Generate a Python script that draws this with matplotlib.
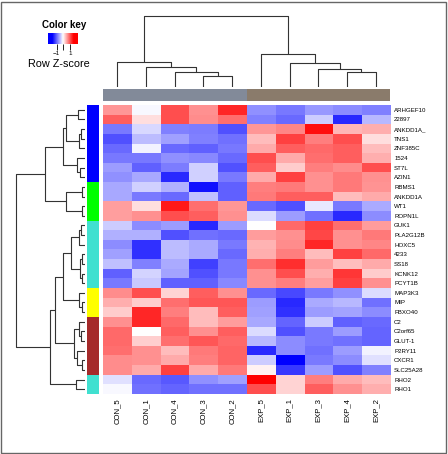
import numpy as np
import matplotlib
matplotlib.use("Agg")
import matplotlib.pyplot as plt
from matplotlib.colors import LinearSegmentedColormap, Normalize
from matplotlib.patches import Rectangle

plt.rcParams['font.family'] = ['Liberation Sans', 'DejaVu Sans']

# ---- data -------------------------------------------------------------
samples = ['CON_5', 'CON_1', 'CON_4', 'CON_3', 'CON_2',
           'EXP_5', 'EXP_1', 'EXP_3', 'EXP_4', 'EXP_2']
sample_group = ['CON'] * 5 + ['EXP'] * 5

genes = ['ARHGEF10', '22897', 'ANKDD1A_', 'TNS1', 'ZNF385C', '1524', 'ST7L',
         'AZIN1', 'RBMS1', 'ANKDD1A', 'WT1', 'ROPN1L', 'GUK1', 'PLA2G12B',
         'HOXC5', '4233', 'SS18', 'KCNK12', 'PCYT1B', 'MAP3K3', 'MIP',
         'FBXO40', 'C2', 'C2orf65', 'GLUT-1', 'P2RY11', 'CXCR1', 'SLC25A28',
         'RHO2', 'RHO1']

# row z-scores, one list per gene, columns in the order of `samples`
z_scores = [
    [0.65, -0.05, 1.10, 0.70, 1.35, -0.70, -0.85, -0.65, -0.72, -0.80],
    [1.00, 0.20, 1.10, 0.72, 0.90, -0.80, -0.93, -0.32, -1.35, -0.45],
    [-0.83, -0.25, -0.80, -0.82, -1.10, 0.65, 0.75, 1.50, 0.45, 0.50],
    [-1.10, -0.42, -0.60, -0.80, -0.90, 0.42, 1.20, 0.80, 1.10, 0.20],
    [-0.93, -0.08, -0.93, -1.00, -0.85, 0.53, 1.00, 0.93, 1.00, 0.42],
    [-0.85, -0.85, -0.70, -0.75, -0.93, 1.10, 0.53, 0.90, 1.00, 0.50],
    [-0.62, -1.00, -0.82, -0.30, -1.08, 1.00, 0.32, 0.80, 0.72, 1.10],
    [-0.70, -0.55, -1.35, -0.30, -0.83, 0.53, 1.20, 0.70, 0.83, 0.70],
    [-0.55, -0.30, -0.50, -1.50, -1.00, 0.80, 0.83, 0.70, 0.83, 0.67],
    [-0.55, -0.83, -0.93, -0.40, -1.00, 0.83, 1.00, 1.00, 0.42, 0.53],
    [0.60, 0.20, 1.45, 0.90, 0.65, -0.93, -1.10, -0.15, -0.83, -0.53],
    [0.60, 0.70, 1.10, 1.00, 0.70, -0.22, -0.62, -0.90, -1.35, -0.72],
    [-0.32, -0.72, -0.62, -1.35, -0.62, 0.00, 0.93, 1.20, 0.90, 0.62],
    [-0.50, -0.50, -1.10, -0.90, -0.93, 0.62, 0.70, 1.15, 0.70, 0.83],
    [-0.72, -1.30, -0.42, -0.53, -0.83, 0.47, 0.72, 1.35, 0.70, 0.75],
    [-0.60, -1.30, -0.42, -0.53, -0.93, 0.50, 0.80, 0.42, 1.20, 0.93],
    [-0.40, -0.80, -0.53, -1.20, -0.85, 0.90, 1.30, 0.62, 0.40, 0.53],
    [-1.00, -0.27, -0.57, -1.10, -0.85, 0.70, 1.10, 0.50, 1.25, 0.32],
    [-0.83, -0.35, -1.00, -1.00, -0.75, 0.70, 0.80, 0.60, 1.20, 0.70],
    [0.72, 1.10, 0.27, 1.00, 0.70, -0.93, -1.15, -0.83, -0.70, -0.22],
    [0.50, 0.32, 0.90, 1.05, 1.05, -0.62, -1.35, -0.53, -0.45, -0.90],
    [0.32, 1.35, 0.80, 0.42, 1.00, -0.60, -1.30, -0.62, -0.57, -0.72],
    [0.70, 1.35, 0.93, 0.42, 0.62, -0.55, -0.97, -0.32, -1.00, -0.93],
    [0.93, 0.00, 1.00, 0.70, 1.00, -0.22, -1.10, -0.83, -0.62, -0.97],
    [0.93, 0.30, 0.90, 1.05, 0.93, -0.45, -0.72, -0.83, -0.90, -0.97],
    [0.90, 0.70, 0.42, 0.83, 0.97, -1.35, -0.72, -0.90, -0.62, -0.08],
    [0.72, 0.70, 0.53, 0.80, 0.97, -0.32, -1.60, -0.83, -0.72, -0.20],
    [0.72, 0.53, 1.20, 0.53, 0.83, 0.08, -1.25, -0.62, -1.10, -0.80],
    [-0.20, -0.93, -1.05, -0.70, -0.60, 1.60, 0.27, 0.80, 0.53, 0.42],
    [-0.05, -0.90, -0.97, -0.90, -0.90, 1.10, 0.27, 1.00, 0.70, 0.50],
]

# gene cluster colour per row
row_cluster = (['blue'] * 8 + ['green'] * 4 + ['turquoise'] * 7 +
               ['yellow'] * 3 + ['brown'] * 6 + ['turquoise'] * 2)

# merges (left, right, height); index >= n means an earlier merge
col_merges = [(3, 4, 11), (2, 10, 15), (1, 11, 20), (0, 12, 24.7),
              (8, 9, 15), (7, 14, 17.7), (6, 15, 23.4), (5, 16, 32.4),
              (13, 17, 70.7)]
row_merges = [(0, 1, 6.7), (2, 3, 4), (31, 4, 6), (30, 32, 19),
              (6, 7, 5), (5, 34, 8.3), (33, 35, 21.7),
              (8, 9, 3.3), (10, 11, 3.3), (37, 38, 19.3), (36, 39, 40),
              (12, 13, 4), (41, 14, 6), (15, 16, 3.3), (17, 18, 3.3),
              (43, 44, 5), (42, 45, 14), (20, 21, 3.3), (19, 47, 6),
              (46, 48, 21.7), (23, 24, 4), (22, 50, 6), (26, 27, 3.3),
              (25, 52, 8), (51, 53, 11), (49, 54, 30), (28, 29, 9),
              (55, 56, 35), (40, 57, 69)]

# ---- styling ----------------------------------------------------------
cluster_colors = {'blue': '#0000ff', 'green': '#00ff00', 'turquoise': '#40e0d0',
                  'yellow': '#ffff00', 'brown': '#a52a2a'}
group_colors = {'CON': '#828a99', 'EXP': '#8a7b6b'}
cmap = LinearSegmentedColormap.from_list('bwr2', ['#0000ff', '#ffffff', '#ff0000'])
norm = Normalize(vmin=-1.6, vmax=1.6)
line_kw = dict(color='#333333', lw=0.8, solid_capstyle='butt')

W, H = 448, 454
fig = plt.figure(figsize=(W / 100, H / 100), dpi=100)


def px_axes(x0, y0, x1, y1):
    """Axes placed with pixel coords measured from the top-left corner"""
    return fig.add_axes([x0 / W, 1 - y1 / H, (x1 - x0) / W, (y1 - y0) / H])


def draw_dendro(ax, merges, n, vertical):
    pos = [i + 0.5 for i in range(n)]
    hgt = [0.0] * n
    for a, b, h in merges:
        xs = [pos[a], pos[a], pos[b], pos[b]]
        ys = [hgt[a], h, h, hgt[b]]
        if vertical:
            ax.plot(xs, ys, **line_kw)
        else:
            ax.plot(ys, xs, **line_kw)
        pos.append((pos[a] + pos[b]) / 2)
        hgt.append(h)


n_rows, n_cols = len(genes), len(samples)
hx0, hx1, hy0, hy1 = 103, 390, 105, 394

# heatmap
ax = px_axes(hx0, hy0, hx1, hy1)
ax.imshow(np.array(z_scores), cmap=cmap, norm=norm, aspect='auto',
          interpolation='nearest', extent=(0, n_cols, n_rows, 0))
ax.set_xticks(np.arange(n_cols) + 0.5)
ax.set_xticklabels(samples, rotation=90, fontsize=5.6)
ax.set_yticks(np.arange(n_rows) + 0.5)
ax.set_yticklabels(genes, fontsize=4.4)
ax.yaxis.tick_right()
ax.tick_params(length=0, pad=3)
for s in ax.spines.values():
    s.set_visible(False)

# column side colours
axc = px_axes(hx0, 89.3, hx1, 101.3)
for i, g in enumerate(sample_group):
    axc.add_patch(Rectangle((i, 0), 1, 1, color=group_colors[g], lw=0))
axc.set_xlim(0, n_cols)
axc.set_ylim(0, 1)
axc.axis('off')

# row side colours
axr = px_axes(87, hy0, 99.3, hy1)
for i, c in enumerate(row_cluster):
    axr.add_patch(Rectangle((0, i), 1, 1, color=cluster_colors[c], lw=0))
axr.set_xlim(0, 1)
axr.set_ylim(n_rows, 0)
axr.axis('off')

# column dendrogram
axt = px_axes(hx0, 10, hx1, 86.7)
draw_dendro(axt, col_merges, n_cols, vertical=True)
axt.set_xlim(0, n_cols)
axt.set_ylim(0, 76.7)
axt.axis('off')

# row dendrogram
axl = px_axes(10, hy0, 85, hy1)
draw_dendro(axl, row_merges, n_rows, vertical=False)
axl.set_xlim(75, 0)
axl.set_ylim(n_rows, 0)
axl.axis('off')

# colour key
axk = px_axes(48.3, 33.3, 78.3, 44.3)
grad = np.linspace(-2.25, 2.25, 200).reshape(1, -1)
axk.imshow(grad, cmap=cmap, norm=norm, aspect='auto', extent=(-2.25, 2.25, 0, 1))
axk.set_yticks([])
axk.set_xticks([-1, 0, 1])
axk.set_xticklabels(['\u22121', '', '1'], fontsize=4.5)
axk.tick_params(axis='x', length=4, width=0.6, pad=0.5)
for s in axk.spines.values():
    s.set_visible(False)
fig.text(63.8 / W, 1 - 25.3 / H, 'Color key', fontsize=7, fontweight='bold',
         ha='center', va='center')
fig.text(59 / W, 1 - 64.3 / H, 'Row Z-score', fontsize=7.8,
         ha='center', va='center')

# outer frame
fig.patches.append(Rectangle((0.002, 0.002), 0.994, 0.994, transform=fig.transFigure,
                             fill=False, ec='#666666', lw=1))

fig.savefig('out.png', dpi=100)
